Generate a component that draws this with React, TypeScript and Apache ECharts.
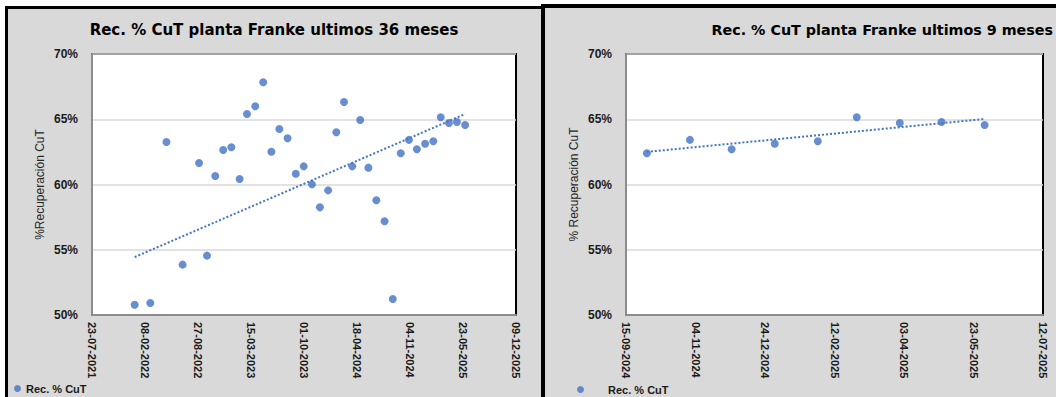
import React, { useEffect, useRef } from "react";
import * as echarts from "echarts";

// Monthly copper recovery (% CuT) at the Franke plant
const sampleDates: string[] = [
  "2021-12-31", "2022-02-28", "2022-04-30", "2022-06-30", "2022-08-31",
  "2022-09-30", "2022-10-31", "2022-11-30", "2022-12-31", "2023-01-31",
  "2023-02-28", "2023-03-31", "2023-04-30", "2023-05-31", "2023-06-30",
  "2023-07-31", "2023-08-31", "2023-09-30", "2023-10-31", "2023-11-30",
  "2023-12-31", "2024-01-31", "2024-02-29", "2024-03-31", "2024-04-30",
  "2024-05-31", "2024-06-30", "2024-07-31", "2024-08-31", "2024-09-30",
  "2024-10-31", "2024-11-30", "2024-12-31", "2025-01-31", "2025-02-28",
  "2025-03-31", "2025-04-30", "2025-05-31",
];
const recoveryPct: number[] = [
  50.79, 50.92, 63.26, 53.86, 61.65,
  54.55, 60.65, 62.64, 62.85, 60.42,
  65.40, 65.99, 67.83, 62.51, 64.25,
  63.54, 60.83, 61.39, 60.01, 58.25,
  59.55, 64.00, 66.32, 61.39, 64.94,
  61.29, 58.79, 57.18, 51.23, 62.39,
  63.42, 62.70, 63.12, 63.31, 65.15,
  64.71, 64.79, 64.56,
];
// the short panel shows the last 9 months
const recentCount = 9;

// linear trend lines: value at the first and last sample of each panel
const trendLongEnds: number[] = [54.44, 65.4];
const trendShortEnds: number[] = [62.5, 65.02];

// x-axis ranges, as dates (tick every `step` days)
const longRange = { from: "2021-07-23", to: "2025-12-09", step: 200 };
const shortRange = { from: "2024-09-15", to: "2025-07-12", step: 50 };

const yTicks: number[] = [50, 55, 60, 65, 70];

const titleLong = "Rec. % CuT planta Franke ultimos 36 meses";
const titleShort = "Rec. % CuT planta Franke ultimos 9 meses";
const seriesName = "Rec. % CuT";

const BLUE = "#4472c4";
const DAY0 = Date.UTC(1899, 11, 30);

// spreadsheet-style day serial, so tick steps fall on whole days
function toSerial(iso: string): number {
  const [y, m, d] = iso.split("-").map(Number);
  return Math.round((Date.UTC(y, m - 1, d) - DAY0) / 86400000);
}
function serialLabel(v: number): string {
  const dt = new Date(DAY0 + Math.round(v) * 86400000);
  const dd = String(dt.getUTCDate()).padStart(2, "0");
  const mm = String(dt.getUTCMonth() + 1).padStart(2, "0");
  return `${dd}-${mm}-${dt.getUTCFullYear()}`;
}

const FONT = "Liberation Sans";

function xAxisFor(range: { from: string; to: string; step: number }, gridIndex: number) {
  return {
    type: "value" as const,
    gridIndex,
    min: toSerial(range.from),
    max: toSerial(range.to),
    interval: range.step,
    axisLine: { show: true, onZero: false, lineStyle: { color: "#8c8c8c", width: 2 } },
    axisTick: { show: false },
    splitLine: { show: false },
    axisLabel: {
      rotate: -90,
      margin: 7,
      color: "#1a1a1a",
      fontFamily: FONT,
      fontWeight: "bold" as const,
      fontSize: 11,
      formatter: (v: number) => serialLabel(v),
      showMinLabel: true,
      showMaxLabel: true,
    },
  };
}
function yAxisFor(name: string, gridIndex: number) {
  return {
    type: "value" as const,
    gridIndex,
    min: yTicks[0],
    max: yTicks[yTicks.length - 1],
    interval: yTicks[1] - yTicks[0],
    name,
    nameLocation: "middle" as const,
    nameGap: 46,
    nameTextStyle: { color: "#262626", fontFamily: FONT, fontSize: 12 },
    axisLine: { show: true, lineStyle: { color: "#8c8c8c", width: 2 } },
    axisTick: { show: false },
    splitLine: { show: true, lineStyle: { color: "#d9d9d9", width: 1.5 } },
    axisLabel: {
      margin: 14,
      color: "#1a1a1a",
      fontFamily: FONT,
      fontWeight: "bold" as const,
      fontSize: 12,
      formatter: (v: number) => `${v}%`,
    },
  };
}

export default function App() {
  const ref = useRef<HTMLDivElement>(null);

  useEffect(() => {
    if (!ref.current) return;
    const chart = echarts.init(ref.current, null, { renderer: "svg" });

    const longPts = sampleDates.map((d, i) => [toSerial(d), recoveryPct[i]]);
    const shortPts = longPts.slice(longPts.length - recentCount);
    const ends = (pts: number[][], v: number[]) => [
      [pts[0][0], v[0]],
      [pts[pts.length - 1][0], v[1]],
    ];

    const gridBase = {
      show: true,
      backgroundColor: "#ffffff",
      borderColor: "#000000",
      borderWidth: 2,
      containLabel: false,
    };
    const scatterStyle = { color: BLUE };
    const trendStyle = { color: BLUE, width: 2, type: "dotted" as const };

    chart.setOption({
      animation: false,
      backgroundColor: "#ffffff",
      graphic: [
        {
          type: "rect",
          z: -10,
          shape: { x: 6.5, y: 7.5, width: 540, height: 400 },
          style: { fill: "#d9d9d9", stroke: "#000000", lineWidth: 3 },
          silent: true,
        },
        {
          type: "rect",
          z: -9,
          shape: { x: 543, y: 6, width: 540, height: 400 },
          style: { fill: "#d9d9d9", stroke: "#000000", lineWidth: 4 },
          silent: true,
        },
        {
          type: "text",
          x: 274,
          y: 30,
          style: {
            text: titleLong,
            textAlign: "center",
            textVerticalAlign: "middle",
            fill: "#000000",
            font: "bold 15px 'DejaVu Sans'",
          },
        },
        {
          type: "text",
          x: 1053,
          y: 30,
          style: {
            text: titleShort,
            textAlign: "right",
            textVerticalAlign: "middle",
            fill: "#000000",
            font: "bold 14.3px 'DejaVu Sans'",
          },
        },
      ],
      legend: [
        {
          data: [seriesName],
          left: 14,
          top: 383,
          icon: "circle",
          itemWidth: 7,
          itemHeight: 7,
          padding: 0,
          textStyle: { color: "#1a1a1a", fontFamily: FONT, fontWeight: "bold", fontSize: 11 },
        },
        {
          data: [seriesName],
          left: 577,
          top: 384,
          icon: "circle",
          itemWidth: 7,
          itemHeight: 7,
          padding: 0,
          formatter: (n: string) => `{p|${n}}`,
          textStyle: {
            color: "#1a1a1a",
            fontFamily: FONT,
            fontWeight: "bold",
            fontSize: 11,
            rich: { p: { padding: [0, 0, 0, 19], fontFamily: FONT, fontWeight: "bold", fontSize: 11, color: "#1a1a1a" } },
          },
        },
      ],
      grid: [
        { ...gridBase, left: 92, top: 54, width: 424, height: 261 },
        { ...gridBase, left: 626, top: 54, width: 417, height: 261 },
      ],
      xAxis: [xAxisFor(longRange, 0), xAxisFor(shortRange, 1)],
      yAxis: [yAxisFor("%Recuperación CuT", 0), yAxisFor("% Recuperación CuT", 1)],
      series: [
        {
          name: seriesName,
          type: "scatter",
          xAxisIndex: 0,
          yAxisIndex: 0,
          symbolSize: 8,
          itemStyle: scatterStyle,
          data: longPts,
          z: 3,
        },
        {
          name: "Tendencia 36",
          type: "line",
          xAxisIndex: 0,
          yAxisIndex: 0,
          symbol: "none",
          lineStyle: trendStyle,
          data: ends(longPts, trendLongEnds),
          z: 2,
        },
        {
          name: seriesName,
          type: "scatter",
          xAxisIndex: 1,
          yAxisIndex: 1,
          symbolSize: 8,
          itemStyle: scatterStyle,
          data: shortPts,
          z: 3,
        },
        {
          name: "Tendencia 9",
          type: "line",
          xAxisIndex: 1,
          yAxisIndex: 1,
          symbol: "none",
          lineStyle: trendStyle,
          data: ends(shortPts, trendShortEnds),
          z: 2,
        },
      ],
    });

    return () => chart.dispose();
  }, []);

  return (
    <div
      ref={ref}
      style={{ position: "fixed", left: 0, top: 0, width: 1056, height: 397 }}
    />
  );
}
